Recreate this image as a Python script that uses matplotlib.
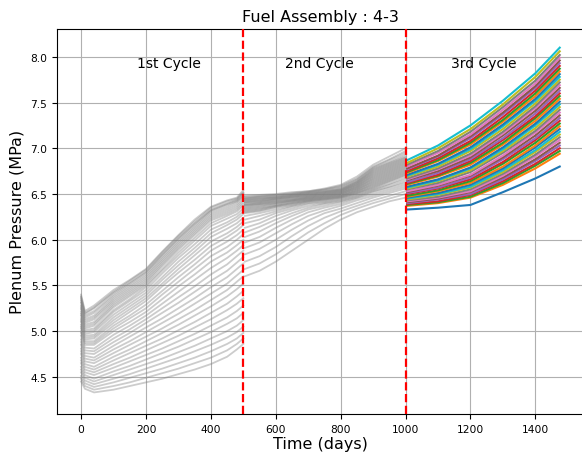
import numpy as np
import matplotlib.pyplot as plt

# 1st cycle: value of every rod at each time point (rods sorted low -> high)
c1_days = [0, 12, 40, 100, 150, 200, 250, 300, 350, 400, 450, 480, 500]
c1_d0 = [4.45, 4.48, 4.51, 4.55, 4.58, 4.61, 4.65, 4.68, 4.71, 4.75, 4.78, 4.81, 4.85, 4.88, 4.91, 4.95, 4.98, 5.00,
         5.03, 5.05, 5.07, 5.10, 5.12, 5.14, 5.17, 5.19, 5.21, 5.24, 5.26, 5.28, 5.31, 5.33, 5.35, 5.37, 5.38, 5.40]
c1_d12 = [4.37, 4.40, 4.43, 4.46, 4.49, 4.52, 4.55, 4.58, 4.61, 4.64, 4.67, 4.70, 4.73, 4.76, 4.79, 4.82, 4.85, 4.87,
          4.89, 4.91, 4.93, 4.95, 4.97, 4.99, 5.01, 5.03, 5.05, 5.07, 5.09, 5.11, 5.13, 5.15, 5.17, 5.19, 5.20, 5.22]
c1_d40 = [4.33, 4.36, 4.39, 4.42, 4.45, 4.48, 4.52, 4.55, 4.58, 4.61, 4.65, 4.68, 4.71, 4.75, 4.78, 4.81, 4.85, 4.87,
          4.89, 4.92, 4.94, 4.96, 4.99, 5.01, 5.03, 5.06, 5.08, 5.10, 5.13, 5.15, 5.17, 5.20, 5.22, 5.25, 5.26, 5.28]
c1_d100 = [4.36, 4.40, 4.44, 4.48, 4.52, 4.56, 4.60, 4.64, 4.68, 4.72, 4.76, 4.80, 4.84, 4.88, 4.92, 4.96, 5.00, 5.03,
           5.06, 5.09, 5.12, 5.15, 5.18, 5.21, 5.23, 5.26, 5.28, 5.30, 5.32, 5.34, 5.36, 5.38, 5.40, 5.42, 5.43, 5.45]
c1_d150 = [4.40, 4.44, 4.49, 4.53, 4.58, 4.62, 4.67, 4.71, 4.76, 4.80, 4.85, 4.89, 4.94, 4.98, 5.02, 5.06, 5.10, 5.14,
           5.17, 5.21, 5.24, 5.27, 5.30, 5.33, 5.35, 5.38, 5.40, 5.42, 5.44, 5.46, 5.48, 5.50, 5.52, 5.53, 5.55, 5.56]
c1_d200 = [4.44, 4.49, 4.54, 4.59, 4.64, 4.69, 4.74, 4.79, 4.84, 4.89, 4.94, 4.99, 5.04, 5.09, 5.13, 5.17, 5.21, 5.25,
           5.29, 5.33, 5.36, 5.39, 5.42, 5.45, 5.48, 5.50, 5.52, 5.54, 5.56, 5.58, 5.60, 5.62, 5.64, 5.65, 5.67, 5.68]
c1_d250 = [4.48, 4.54, 4.59, 4.65, 4.70, 4.76, 4.81, 4.87, 4.92, 4.98, 5.03, 5.09, 5.14, 5.20, 5.25, 5.30, 5.35, 5.40,
           5.44, 5.49, 5.52, 5.56, 5.59, 5.63, 5.66, 5.68, 5.71, 5.73, 5.75, 5.77, 5.79, 5.81, 5.83, 5.84, 5.86, 5.87]
c1_d300 = [4.53, 4.59, 4.65, 4.71, 4.77, 4.83, 4.89, 4.95, 5.01, 5.07, 5.13, 5.19, 5.25, 5.31, 5.37, 5.43, 5.49, 5.54,
           5.59, 5.64, 5.68, 5.72, 5.76, 5.80, 5.83, 5.86, 5.89, 5.91, 5.93, 5.95, 5.97, 5.99, 6.01, 6.02, 6.04, 6.05]
c1_d350 = [4.58, 4.65, 4.71, 4.78, 4.84, 4.91, 4.97, 5.04, 5.10, 5.17, 5.23, 5.30, 5.36, 5.43, 5.49, 5.56, 5.62, 5.68,
           5.73, 5.78, 5.83, 5.87, 5.91, 5.95, 5.99, 6.02, 6.05, 6.07, 6.09, 6.11, 6.13, 6.15, 6.17, 6.18, 6.20, 6.22]
c1_d400 = [4.64, 4.71, 4.78, 4.85, 4.92, 4.99, 5.06, 5.13, 5.20, 5.27, 5.34, 5.41, 5.48, 5.55, 5.62, 5.69, 5.76, 5.82,
           5.88, 5.93, 5.98, 6.03, 6.07, 6.11, 6.15, 6.18, 6.21, 6.23, 6.25, 6.27, 6.29, 6.31, 6.32, 6.33, 6.35, 6.36]
c1_d450 = [4.72, 4.79, 4.86, 4.93, 5.00, 5.08, 5.15, 5.23, 5.30, 5.38, 5.45, 5.52, 5.59, 5.66, 5.73, 5.80, 5.86, 5.92,
           5.98, 6.03, 6.07, 6.12, 6.16, 6.19, 6.23, 6.26, 6.28, 6.30, 6.32, 6.34, 6.36, 6.38, 6.39, 6.40, 6.42, 6.43]
c1_d480 = [4.80, 4.86, 4.92, 4.99, 5.06, 5.14, 5.22, 5.30, 5.38, 5.46, 5.54, 5.61, 5.68, 5.75, 5.82, 5.88, 5.94, 6.00,
           6.05, 6.10, 6.14, 6.18, 6.22, 6.25, 6.28, 6.31, 6.33, 6.35, 6.37, 6.39, 6.41, 6.42, 6.43, 6.44, 6.45, 6.46]
c1_d500 = [4.86, 4.92, 4.98, 5.05, 5.12, 5.20, 5.28, 5.36, 5.44, 5.52, 5.60, 5.67, 5.74, 5.81, 5.88, 5.94, 6.00, 6.06,
           6.11, 6.16, 6.20, 6.24, 6.28, 6.31, 6.34, 6.37, 6.39, 6.41, 6.43, 6.45, 6.47, 6.48, 6.50, 6.51, 6.52, 6.54]

# 2nd cycle
c2_days = [505, 550, 600, 650, 700, 750, 800, 850, 900, 950, 1000]
c2_d505 = [5.60, 5.68, 5.76, 5.84, 5.91, 5.97, 6.03, 6.08, 6.13, 6.18, 6.22, 6.26, 6.29, 6.30, 6.31, 6.32, 6.33, 6.34,
           6.35, 6.36, 6.37, 6.38, 6.38, 6.39, 6.40, 6.41, 6.41, 6.42, 6.43, 6.43, 6.44, 6.45, 6.45, 6.46, 6.47, 6.48]
c2_d550 = [5.66, 5.74, 5.82, 5.90, 5.97, 6.03, 6.09, 6.14, 6.18, 6.22, 6.26, 6.29, 6.31, 6.32, 6.33, 6.34, 6.35, 6.36,
           6.37, 6.38, 6.39, 6.39, 6.40, 6.41, 6.41, 6.42, 6.43, 6.43, 6.44, 6.45, 6.45, 6.46, 6.47, 6.47, 6.48, 6.49]
c2_d600 = [5.76, 5.84, 5.92, 6.00, 6.07, 6.13, 6.18, 6.22, 6.26, 6.29, 6.31, 6.33, 6.35, 6.36, 6.37, 6.37, 6.38, 6.39,
           6.40, 6.40, 6.41, 6.42, 6.42, 6.43, 6.44, 6.44, 6.45, 6.45, 6.46, 6.46, 6.47, 6.47, 6.48, 6.49, 6.49, 6.50]
c2_d650 = [5.88, 5.96, 6.04, 6.11, 6.17, 6.22, 6.26, 6.29, 6.32, 6.34, 6.36, 6.37, 6.38, 6.39, 6.40, 6.40, 6.41, 6.42,
           6.42, 6.43, 6.43, 6.44, 6.44, 6.45, 6.46, 6.46, 6.47, 6.47, 6.48, 6.48, 6.49, 6.49, 6.50, 6.50, 6.51, 6.52]
c2_d700 = [6.00, 6.08, 6.15, 6.21, 6.26, 6.30, 6.33, 6.35, 6.37, 6.39, 6.40, 6.41, 6.42, 6.42, 6.43, 6.43, 6.44, 6.44,
           6.45, 6.45, 6.46, 6.46, 6.47, 6.47, 6.48, 6.48, 6.49, 6.49, 6.50, 6.50, 6.51, 6.51, 6.52, 6.52, 6.53, 6.53]
c2_d750 = [6.12, 6.18, 6.24, 6.29, 6.32, 6.35, 6.37, 6.39, 6.40, 6.41, 6.42, 6.43, 6.44, 6.44, 6.45, 6.45, 6.46, 6.46,
           6.47, 6.47, 6.48, 6.48, 6.49, 6.49, 6.50, 6.50, 6.51, 6.51, 6.52, 6.52, 6.53, 6.53, 6.54, 6.55, 6.55, 6.56]
c2_d800 = [6.22, 6.27, 6.31, 6.34, 6.37, 6.39, 6.41, 6.42, 6.43, 6.44, 6.45, 6.46, 6.46, 6.47, 6.47, 6.48, 6.48, 6.49,
           6.49, 6.50, 6.50, 6.51, 6.51, 6.52, 6.52, 6.53, 6.53, 6.54, 6.54, 6.55, 6.55, 6.56, 6.57, 6.58, 6.59, 6.60]
c2_d850 = [6.30, 6.34, 6.37, 6.40, 6.43, 6.45, 6.46, 6.47, 6.48, 6.49, 6.50, 6.51, 6.51, 6.52, 6.53, 6.53, 6.54, 6.55,
           6.55, 6.56, 6.57, 6.57, 6.58, 6.59, 6.59, 6.60, 6.61, 6.61, 6.62, 6.63, 6.63, 6.64, 6.65, 6.66, 6.67, 6.69]
c2_d900 = [6.36, 6.40, 6.43, 6.46, 6.48, 6.50, 6.52, 6.53, 6.54, 6.55, 6.56, 6.57, 6.58, 6.59, 6.60, 6.61, 6.62, 6.63,
           6.64, 6.65, 6.66, 6.67, 6.68, 6.69, 6.70, 6.71, 6.72, 6.73, 6.74, 6.75, 6.76, 6.77, 6.78, 6.79, 6.80, 6.82]
c2_d950 = [6.42, 6.45, 6.48, 6.51, 6.53, 6.55, 6.57, 6.58, 6.60, 6.61, 6.63, 6.64, 6.65, 6.66, 6.67, 6.68, 6.69, 6.70,
           6.71, 6.72, 6.73, 6.74, 6.75, 6.76, 6.77, 6.78, 6.79, 6.80, 6.81, 6.82, 6.83, 6.84, 6.85, 6.87, 6.88, 6.91]
c2_d1000 = [6.46, 6.50, 6.53, 6.56, 6.58, 6.60, 6.62, 6.64, 6.66, 6.68, 6.70, 6.71, 6.72, 6.73, 6.74, 6.75, 6.76, 6.77,
            6.78, 6.79, 6.80, 6.81, 6.82, 6.83, 6.84, 6.85, 6.86, 6.87, 6.88, 6.89, 6.90, 6.91, 6.93, 6.95, 6.97, 7.00]

# 3rd cycle
c3_days = [1005, 1100, 1200, 1300, 1400, 1475]
c3_d1005 = [6.33, 6.37, 6.38, 6.39, 6.40, 6.41, 6.42, 6.43, 6.44, 6.45, 6.46, 6.47, 6.48, 6.50, 6.51, 6.52, 6.53, 6.55,
            6.56, 6.57, 6.58, 6.60, 6.61, 6.62, 6.63, 6.65, 6.66, 6.67, 6.69, 6.70, 6.71, 6.73, 6.74, 6.75, 6.77, 6.78,
            6.80, 6.82, 6.84, 6.87]
c3_d1100 = [6.35, 6.40, 6.41, 6.42, 6.44, 6.45, 6.46, 6.47, 6.49, 6.50, 6.51, 6.53, 6.54, 6.56, 6.57, 6.59, 6.60, 6.62,
            6.64, 6.65, 6.66, 6.69, 6.70, 6.71, 6.73, 6.75, 6.77, 6.78, 6.80, 6.82, 6.83, 6.86, 6.87, 6.89, 6.91, 6.92,
            6.95, 6.97, 7.00, 7.03]
c3_d1200 = [6.38, 6.46, 6.47, 6.49, 6.50, 6.52, 6.53, 6.55, 6.57, 6.58, 6.60, 6.62, 6.64, 6.66, 6.68, 6.70, 6.71, 6.74,
            6.76, 6.78, 6.79, 6.82, 6.84, 6.86, 6.88, 6.90, 6.92, 6.94, 6.97, 6.99, 7.01, 7.04, 7.06, 7.08, 7.11, 7.13,
            7.15, 7.18, 7.21, 7.25]
c3_d1300 = [6.52, 6.60, 6.62, 6.64, 6.66, 6.68, 6.70, 6.72, 6.74, 6.76, 6.78, 6.80, 6.83, 6.85, 6.88, 6.90, 6.92, 6.95,
            6.97, 6.99, 7.01, 7.04, 7.06, 7.09, 7.11, 7.14, 7.16, 7.18, 7.21, 7.24, 7.26, 7.29, 7.31, 7.34, 7.37, 7.39,
            7.42, 7.45, 7.48, 7.52]
c3_d1400 = [6.67, 6.78, 6.81, 6.83, 6.86, 6.88, 6.91, 6.93, 6.96, 6.98, 7.01, 7.03, 7.06, 7.09, 7.11, 7.14, 7.17, 7.19,
            7.22, 7.25, 7.27, 7.30, 7.33, 7.35, 7.38, 7.41, 7.44, 7.46, 7.49, 7.52, 7.54, 7.57, 7.60, 7.63, 7.66, 7.68,
            7.71, 7.74, 7.78, 7.82]
c3_d1475 = [6.80, 6.94, 6.97, 7.00, 7.03, 7.06, 7.09, 7.12, 7.15, 7.18, 7.21, 7.24, 7.27, 7.30, 7.33, 7.36, 7.39, 7.42,
            7.45, 7.48, 7.51, 7.54, 7.57, 7.60, 7.63, 7.66, 7.69, 7.72, 7.75, 7.78, 7.81, 7.84, 7.87, 7.90, 7.93, 7.96,
            7.99, 8.02, 8.06, 8.10]

cycle_names = ['1st Cycle', '2nd Cycle', '3rd Cycle']
cycle_label_x = [270, 735, 1240]
cycle_ends = [500, 1000]

c1 = np.array([c1_d0, c1_d12, c1_d40, c1_d100, c1_d150, c1_d200, c1_d250, c1_d300, c1_d350, c1_d400,
               c1_d450, c1_d480, c1_d500])
c2 = np.array([c2_d505, c2_d550, c2_d600, c2_d650, c2_d700, c2_d750, c2_d800, c2_d850, c2_d900, c2_d950, c2_d1000])
c3 = np.array([c3_d1005, c3_d1100, c3_d1200, c3_d1300, c3_d1400, c3_d1475])

fig = plt.figure(figsize=(5.82, 4.6), dpi=100)
ax = fig.add_axes([0.098, 0.098, 0.905, 0.837])

# gray spaghetti for the first two cycles, coloured lines for the third
ax.plot(c1_days, c1, color='gray', alpha=0.4, lw=1.3)
ax.plot(c2_days, c2, color='gray', alpha=0.4, lw=1.3)
ax.plot(c3_days, c3, lw=1.5)

for x in cycle_ends:
    ax.axvline(x, color='red', ls='--', lw=1.6, zorder=5)

for name, x in zip(cycle_names, cycle_label_x):
    ax.text(x, 7.93, name, ha='center', va='center', fontsize=10)

ax.set_xlim(-74, 1549)
ax.set_ylim(4.095, 8.305)
ax.set_xticks([0, 200, 400, 600, 800, 1000, 1200, 1400])
ax.set_yticks([4.5, 5.0, 5.5, 6.0, 6.5, 7.0, 7.5, 8.0])
ax.tick_params(labelsize=7.7)
ax.grid(True, color='#b0b0b0', lw=0.8)

ax.set_title('Fuel Assembly : 4-3', fontsize=11.5)
ax.set_xlabel('Time (days)', fontsize=11.5, labelpad=2)
ax.set_ylabel('Plenum Pressure (MPa)', fontsize=11.5)

fig.savefig('out.png', dpi=100)
